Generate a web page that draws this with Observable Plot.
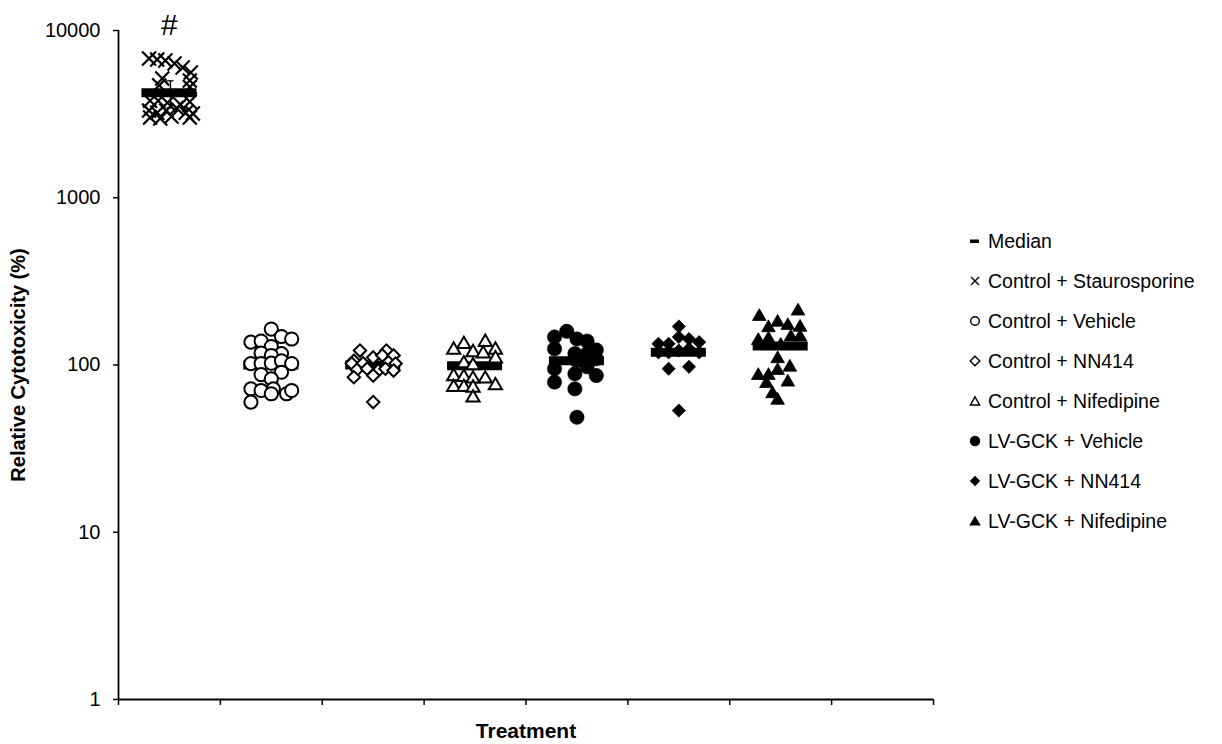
<!DOCTYPE html>
<html><head><meta charset="utf-8">
<script src="https://cdn.jsdelivr.net/npm/d3@7"></script>
<script src="https://cdn.jsdelivr.net/npm/@observablehq/plot@0.6"></script>
<style>
body{margin:0;background:#fff;font-family:"Liberation Sans",Arial,sans-serif;}
#wrap{position:relative;width:1222px;height:744px;overflow:hidden;}
#legend{position:absolute;left:968px;top:221px;font-size:19.5px;color:#000;}
.item{height:40px;display:flex;align-items:center;white-space:nowrap;}
.item svg{width:14px;height:14px;margin-right:6px;flex:none;}
</style></head>
<body><div id="wrap"><div id="chart"></div><div id="legend"></div></div>
<script>
const groups = ["Control + Staurosporine","Control + Vehicle","Control + NN414","Control + Nifedipine","LV-GCK + Vehicle","LV-GCK + NN414","LV-GCK + Nifedipine"];

const stauroValues = [6800,6700,6620,6350,6010,5610,5160,5020,4700,4600,3800,3800,3700,3600,3750,3320,3220,3320,3440,3220,3190,3020,2980,3060,3020];
const stauroSlots  = [-2,-1.2,-0.4,0.5,1.3,2.1,-0.7,2,-1,2,-1.9,-1.1,-0.2,1.1,2,-2,-1.2,-0.3,0.7,1.6,2.3,-1.9,-0.9,0.2,2];

const vehicleValues = [164,148,143,137,139,129,118,117,114,102,102,102.5,106,102,87.7,90.5,82.6,72,70.4,72,67.3,67.3,70.4,60];
const vehicleSlots  = [0,1,2,-2,-1,0,-1,1,0,-2,-1,0,1,2,-1,1,0,-2,-1,0.2,0,1.5,2,-2];

const nn414Values = [122,122,106,111,114,114,102,102.5,104,102,93.6,95,92.7,95,84.6,86.5,92.7,60];
const nn414Slots  = [-1.3,1.3,-1.9,0,0.9,2,-2.1,-1,1.5,2.2,-1.6,-0.6,0.5,1.2,-1.9,0,2,0];

const nifValues = [137,133,123,119,123,117,109,102,99.3,85.4,84.6,82.7,82.7,73.6,73.6,73,75.4,63.7];
const nifSlots  = [1,-1.1,-2.1,-0.2,2,0.8,2,-1.1,-0.2,-2.1,-1.1,-0.2,1,-2.1,-1.1,-0.2,2,-0.2];

const gckVehicleValues = [159,147,143,139,125,123,117,117,109,106,95,97.5,86.5,88.6,79,72,48.7];
const gckVehicleSlots  = [-1,-2.2,0,1,-2.2,1.9,-0.2,1,1.9,0,-2.2,1,1.9,-0.2,-2.2,-0.2,0];

const gckNN414Values = [170,147,143,137,134,134,125,122,119,119,119,95,97.5,53.4];
const gckNN414Slots  = [0,0,1,2,-2,-1,1,0,-2,-1,2,-1,1,0];

const gckNifValues = [210,195,180,172,168,167,147,143,140,147,131,109,97,86.5,86.5,92.7,79,77.4,67.3,61.5];
const gckNifSlots  = [1.7,-2.1,-0.3,0.7,1.9,-1.2,1,-1.2,-2.2,1.9,0,-0.3,0.9,-2.2,-1.2,-0.3,0.7,-1.4,-0.8,-0.3];

const medians = [4250,100,100,99,106,119,130];
const errorLow = [3450];   // Control + Staurosporine only
const errorHigh = [5000];
const annotations = ["#"]; // above Control + Staurosporine
const yTicks = [1,10,100,1000,10000];

const valueSets = [stauroValues,vehicleValues,nn414Values,nifValues,gckVehicleValues,gckNN414Values,gckNifValues];
const slotSets = [stauroSlots,vehicleSlots,nn414Slots,nifSlots,gckVehicleSlots,gckNN414Slots,gckNifSlots];

const styles = [
  {symbol:"times", fill:"none", stroke:"black", r:6.4, strokeWidth:2.2},
  {symbol:"circle", fill:"white", stroke:"black", r:6.6, strokeWidth:2},
  {symbol:"diamond2", fill:"white", stroke:"black", r:5.6, strokeWidth:2},
  {symbol:"triangle2", fill:"white", stroke:"black", r:6.3, strokeWidth:2},
  {symbol:"circle", fill:"black", stroke:"black", r:7.2, strokeWidth:0.5},
  {symbol:"diamond2", fill:"black", stroke:"black", r:5.9, strokeWidth:0.8},
  {symbol:"triangle2", fill:"black", stroke:"black", r:6.5, strokeWidth:0.8}
];
const step = 0.1;
const FONT = "'Liberation Sans', Arial, sans-serif";

const points = groups.map((g, gi) => valueSets[gi].map((v, i) => ({group: g, gi, value: v, slot: slotSets[gi][i]})));
const medianTable = groups.map((g, gi) => ({group: g, gi, median: medians[gi]}));
const errTable = errorLow.map((lo, i) => ({gi: i, lo, hi: errorHigh[i]}));
const annTable = annotations.map((t, i) => ({gi: i, text: t}));

const marks = [
  Plot.axisY({ticks: yTicks, tickFormat: d3.format("d"), tickSize: 5, tickPadding: 13, fontSize: 20, label: null, strokeWidth: 1.5}),
  Plot.axisX({ticks: d3.range(0, 9), tickFormat: () => "", tickSize: 6, label: null, strokeWidth: 1.5}),
  Plot.ruleX([0], {y1: 1, y2: 10000, strokeWidth: 1.8}),
  Plot.ruleY([1], {x1: 0, x2: 8, strokeWidth: 1.8}),
  Plot.ruleY(medianTable, {y: "median", x1: d => d.gi + 0.5 - 0.27, x2: d => d.gi + 0.5 + 0.27, strokeWidth: 9, stroke: "black"}),
  Plot.ruleX(errTable, {x: d => d.gi + 0.51, y1: "lo", y2: "hi", strokeWidth: 1.3}),
  Plot.ruleY(errTable, {y: "lo", x1: d => d.gi + 0.475, x2: d => d.gi + 0.545, strokeWidth: 1.3}),
  Plot.ruleY(errTable, {y: "hi", x1: d => d.gi + 0.475, x2: d => d.gi + 0.545, strokeWidth: 1.3}),
  ...points.map((pts, gi) => Plot.dot(pts, {x: d => d.gi + 0.5 + d.slot * step, y: "value", ...styles[gi]})),
  Plot.text(annTable, {x: d => d.gi + 0.5, y: () => 10000, text: "text", dy: -5, fontSize: 30, fontFamily: FONT, lineAnchor: "middle"}),
  Plot.text(["Treatment"], {text: d => d, frameAnchor: "bottom", textAnchor: "middle", lineAnchor: "middle", dy: 32, fontWeight: "bold", fontSize: 21, fontFamily: FONT}),
  Plot.text(["Relative Cytotoxicity (%)"], {text: d => d, frameAnchor: "left", textAnchor: "middle", lineAnchor: "middle", dx: -100, rotate: -90, fontWeight: "bold", fontSize: 20, fontFamily: FONT})
];

const chart = Plot.plot({
  width: 1222, height: 744,
  marginLeft: 118, marginRight: 289, marginTop: 30, marginBottom: 45,
  style: {fontFamily: FONT, color: "black", background: "white", overflow: "visible"},
  x: {type: "linear", domain: [0, 8], axis: null},
  y: {type: "log", domain: [1, 10000], axis: null},
  marks
});
document.getElementById("chart").appendChild(chart);

// legend
const legendSym = [
  '<rect x="2" y="5.5" width="9" height="3.5" fill="black"/>',
  '<path d="M3,3L11,11M11,3L3,11" stroke="black" stroke-width="1.4" fill="none"/>',
  '<circle cx="7" cy="7" r="4.3" stroke="black" stroke-width="1.4" fill="white"/>',
  '<path d="M7,2.2L11.8,7L7,11.8L2.2,7Z" stroke="black" stroke-width="1.4" fill="white"/>',
  '<path d="M7,2.8L11.6,11L2.4,11Z" stroke="black" stroke-width="1.4" fill="white"/>',
  '<circle cx="7" cy="7" r="5.2" fill="black"/>',
  '<path d="M7,1.8L12.2,7L7,12.2L1.8,7Z" fill="black"/>',
  '<path d="M7,1.8L12.8,11.6L1.2,11.6Z" fill="black"/>'
];
const legendLabels = ["Median", ...groups];
const leg = document.getElementById("legend");
legendLabels.forEach((lab, i) => {
  const div = document.createElement("div");
  div.className = "item";
  div.innerHTML = '<svg viewBox="0 0 14 14">' + legendSym[i] + '</svg><span></span>';
  div.querySelector("span").textContent = lab;
  leg.appendChild(div);
});
</script>
</body></html>
